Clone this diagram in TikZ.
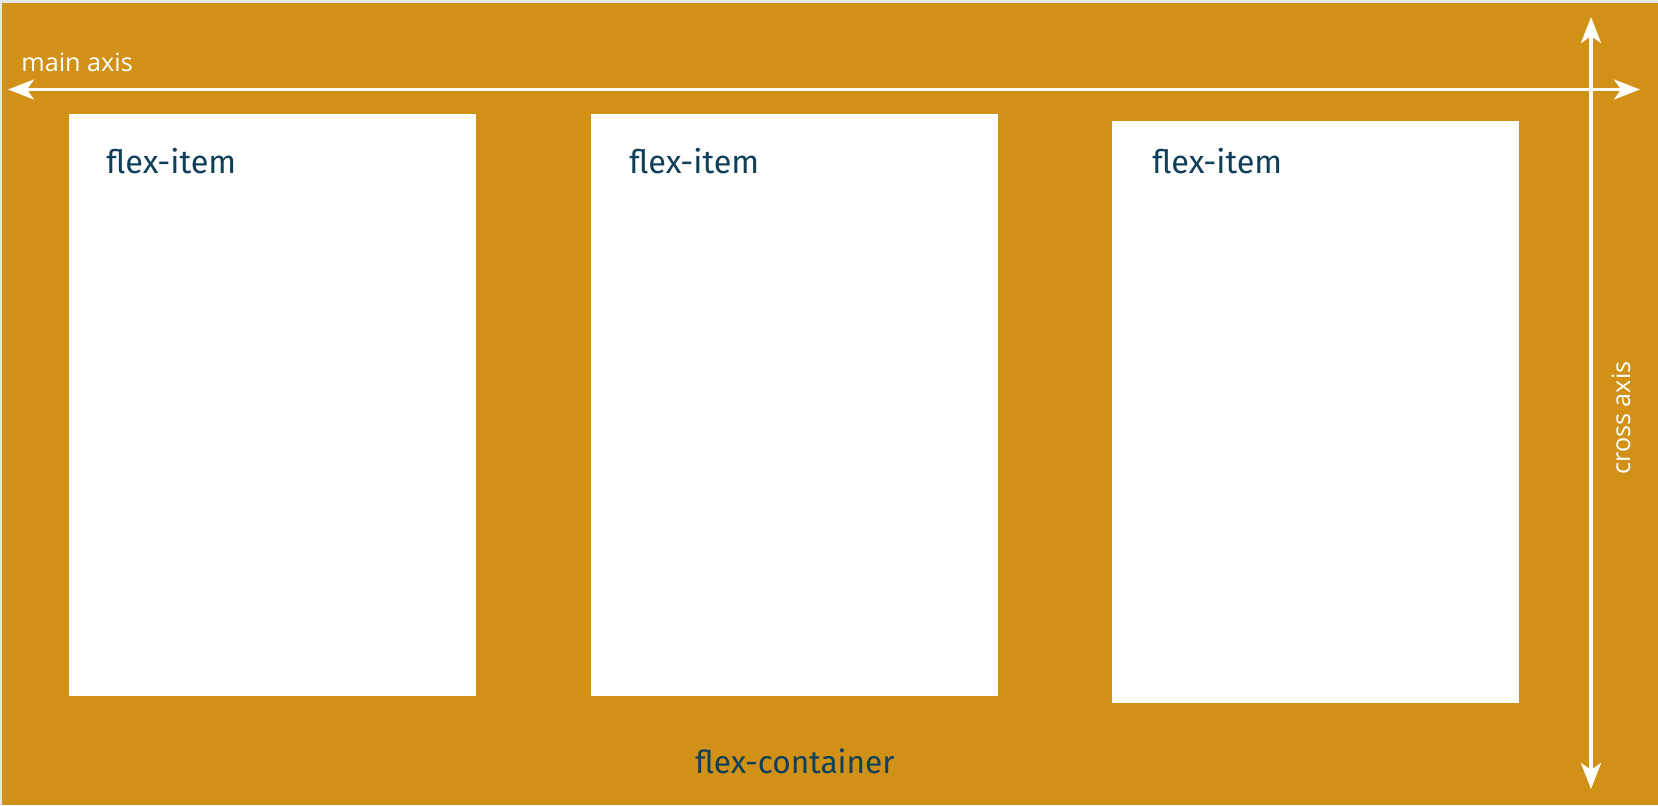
\documentclass[tikz,border=0pt]{standalone}
\usepackage{fontspec}
\setmainfont{Fira Sans}
\newfontfamily\axisfont{Open Sans}
\usetikzlibrary{arrows.meta}
\definecolor{flexorange}{HTML}{D09116}
\definecolor{flexblue}{HTML}{0F3F5A}
\definecolor{edgegray}{HTML}{E6E6E6}
\tikzset{
  itembox/.style={fill=white, draw=none},
  itemlabel/.style={text=flexblue, font=\fontsize{16.2pt}{18pt}\selectfont, anchor=base west, inner sep=0pt},
  containerlabel/.style={text=flexblue, font=\fontsize{15.8pt}{18pt}\selectfont, anchor=base west, inner sep=0pt},
  axislabel/.style={text=white, font=\axisfont\fontsize{12.6pt}{14pt}\selectfont, inner sep=0pt},
  axisarrow/.style={draw=white, line width=1.75pt, {Stealth[length=13pt,width=10pt,inset=3.5pt]}-{Stealth[length=13pt,width=10pt,inset=3.5pt]}}
}
\begin{document}
\begin{tikzpicture}[x=0.5pt,y=-0.5pt]
\useasboundingbox (0,0) rectangle (1658,805);
\fill[edgegray] (0,0) rectangle (1658,805);
\fill[flexorange] (2,3) rectangle (1658,805);
% items
\path[itembox] (69,114) rectangle (476,696);
\path[itembox] (591,114) rectangle (998,696);
\path[itembox] (1112,121) rectangle (1519,703);
\node[itemlabel] (l1) at (106,173) {flex-item};
\node[itemlabel] (l2) at (629,173) {flex-item};
\node[itemlabel] (l3) at (1152,173) {flex-item};
\node[containerlabel] (lc) at (695,773) {flex-container};
% axes
\coordinate (mL) at (8,89.5);
\coordinate (mR) at (1640,89.5);
\coordinate (cT) at (1591,17);
\coordinate (cB) at (1591,789);
\draw[axisarrow] (mL) -- (mR);
\draw[axisarrow] (cT) -- (cB);
\node[axislabel, anchor=base west] (ma) at (21,71) {main axis};
\node[axislabel, anchor=base, rotate=90] (ca) at (1630,418) {cross axis};
\end{tikzpicture}
\end{document}
